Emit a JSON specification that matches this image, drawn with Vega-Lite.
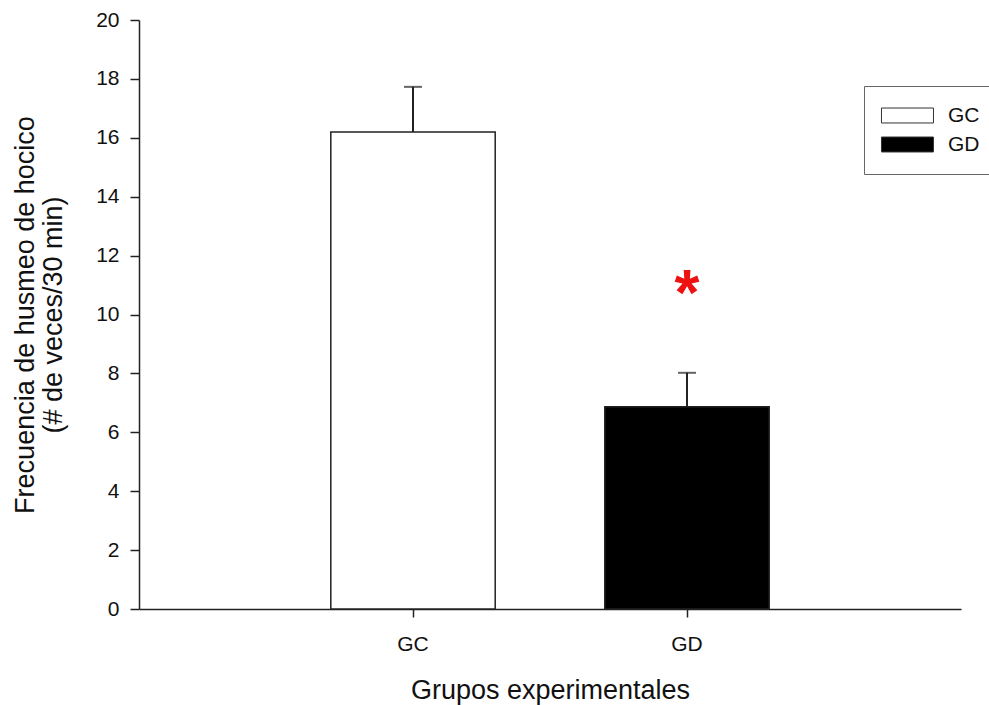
{
  "$schema": "https://vega.github.io/schema/vega-lite/v6.json",
  "width": 822,
  "height": 589,
  "autosize": {"type": "none"},
  "padding": {"left": 139, "top": 20, "right": 28, "bottom": 96},
  "background": "white",
  "config": {
    "font": "Liberation Sans",
    "view": {"stroke": null},
    "axis": {
      "domainColor": "#222222",
      "domainWidth": 1.5,
      "tickColor": "#222222",
      "tickWidth": 1.5,
      "labelColor": "#111111",
      "labelFontSize": 21,
      "titleFontSize": 27,
      "titleFontWeight": "normal",
      "titleColor": "#111111",
      "grid": false
    }
  },
  "data": {
    "values": [
      {"grupo": "GC", "media": 16.2, "sup": 17.73},
      {"grupo": "GD", "media": 6.87, "sup": 8.02}
    ]
  },
  "encoding": {
    "x": {
      "field": "grupo",
      "type": "nominal",
      "sort": ["GC", "GD"],
      "scale": {"paddingInner": 0.4, "paddingOuter": 0.7},
      "axis": {
        "title": "Grupos experimentales",
        "labelAngle": 0,
        "tickSize": 8,
        "labelPadding": 16,
        "titlePadding": 23
      }
    }
  },
  "layer": [
    {
      "mark": {"type": "bar", "stroke": "#222222", "strokeWidth": 1.5},
      "encoding": {
        "y": {
          "field": "media",
          "type": "quantitative",
          "scale": {"domain": [0, 20], "nice": false},
          "axis": {
            "values": [0, 2, 4, 6, 8, 10, 12, 14, 16, 18, 20],
            "title": ["Frecuencia de husmeo de hocico", "(# de veces/30 min)"],
            "tickSize": 9,
            "labelPadding": 11,
            "titlePadding": 28,
            "titleLineHeight": 28
          }
        },
        "fill": {
          "field": "grupo",
          "type": "nominal",
          "scale": {"domain": ["GC", "GD"], "range": ["white", "black"]},
          "legend": {
            "title": null,
            "orient": "none",
            "legendX": 725,
            "legendY": 66,
            "strokeColor": "#666666",
            "padding": 19,
            "symbolType": "M-1.85,-1.15H6.15V1.15H-1.85Z",
            "symbolSize": 169,
            "symbolStrokeColor": "#333333",
            "symbolStrokeWidth": 1,
            "labelFontSize": 21,
            "labelColor": "#111111",
            "labelOffset": 44,
            "rowPadding": 7
          }
        }
      }
    },
    {
      "mark": {"type": "rule", "strokeWidth": 2, "color": "#222222"},
      "encoding": {
        "y": {"field": "media", "type": "quantitative"},
        "y2": {"field": "sup"}
      }
    },
    {
      "mark": {"type": "tick", "size": 18, "thickness": 2, "color": "#222222"},
      "encoding": {
        "y": {"field": "sup", "type": "quantitative"}
      }
    },
    {
      "data": {"values": [{"grupo": "GD", "nivel": 10, "marca": "*"}]},
      "mark": {"type": "text", "color": "#ee1111", "fontSize": 64, "fontWeight": "bold", "baseline": "alphabetic"},
      "encoding": {
        "y": {"field": "nivel", "type": "quantitative"},
        "text": {"field": "marca"}
      }
    }
  ]
}
